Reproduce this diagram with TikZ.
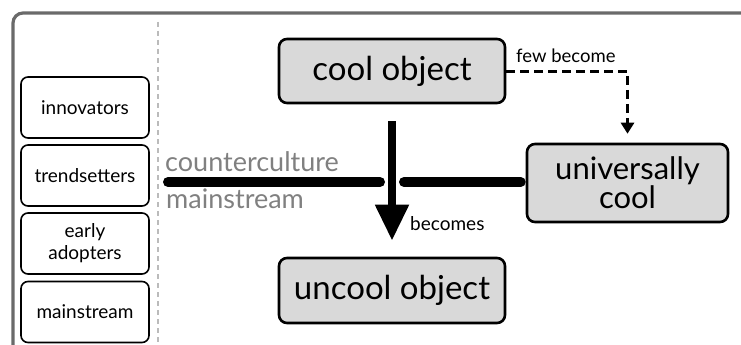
\documentclass[tikz,border=0pt]{standalone}
\usepackage{fontspec}
\setmainfont{Lato}
\usetikzlibrary{arrows.meta}
\definecolor{boxgray}{HTML}{D9D9D9}
\definecolor{txtgray}{HTML}{808080}
\definecolor{framegray}{HTML}{6A6A6A}
\definecolor{dotgray}{HTML}{BBBBBB}
\tikzset{
  x=1pt, y=-1pt,
  sidebox/.style={draw, line width=1.6pt, rounded corners=7pt, fill=white,
    minimum width=128pt, minimum height=61pt, inner sep=0pt, align=center,
    font=\fontsize{19}{23}\selectfont},
  bigbox/.style={draw, line width=2.6pt, rounded corners=8pt, fill=boxgray,
    inner sep=0pt, align=center, font=\fontsize{33}{25}\selectfont},
  thickbar/.style={line width=10pt, line cap=round},
  graylabel/.style={text=txtgray, anchor=west, inner sep=0pt, font=\fontsize{27}{30}\selectfont},
  smalllabel/.style={inner sep=0pt, font=\fontsize{19}{22}\selectfont},
}
\begin{document}
\begin{tikzpicture}
\clip (0,0) rectangle (741,345);
\fill[white] (0,0) rectangle (741,345);
% outer frame
\draw[framegray, line width=3.2pt, rounded corners=10pt] (13,13) rectangle (770,380);
% dotted separator
\draw[dotgray, line width=2pt, dash pattern=on 5pt off 4pt] (158,22) -- (158,345);
% left column
\node[sidebox] (inn) at (85,107.5) {innovators};
\node[sidebox] (trd) at (85,175.5) {trendsetters};
\node[sidebox] (ead) at (85,243.5) {early\\[-1pt]adopters};
\node[sidebox] (mst) at (85,312) {mainstream};
% main boxes
\node[bigbox, minimum width=226pt, minimum height=64pt] (co) at (392,71) {cool object};
\node[bigbox, minimum width=226pt, minimum height=65pt] (uo) at (392,290.5) {uncool object};
\node[bigbox, minimum width=201pt, minimum height=78pt, font=\fontsize{31}{25}\selectfont] (uc) at (627.5,183) {universally\\cool};
% horizontal divider
\coordinate (hl) at (168,182);
\coordinate (gapL) at (380,182);
\coordinate (gapR) at (404,182);
\draw[thickbar] (hl) -- (gapL);
\draw[thickbar, shorten >=5pt] (gapR) -- (uc.west |- gapR);
\node[graylabel] (cc) at (165,162) {counterculture};
\node[graylabel] (ms) at (166,199) {mainstream};
% becomes arrow
\draw[line width=8pt, -{Triangle[width=32pt,length=36pt]}, shorten <=17pt, shorten >=16pt] (co.south) -- (uo.north);
\node[smalllabel, anchor=west] (bec) at (410,224) {becomes};
% few become dashed arrow
\coordinate (turn) at (uc.north |- co.east);
\draw[line width=3pt, dash pattern=on 9pt off 5pt, -{Triangle[width=13pt,length=11pt]}, shorten >=9pt] (co.east) -- (turn) -- (uc.north);
\node[smalllabel, anchor=west, font=\fontsize{18.5}{22}\selectfont] (few) at (516,56) {few become};
\end{tikzpicture}
\end{document}
